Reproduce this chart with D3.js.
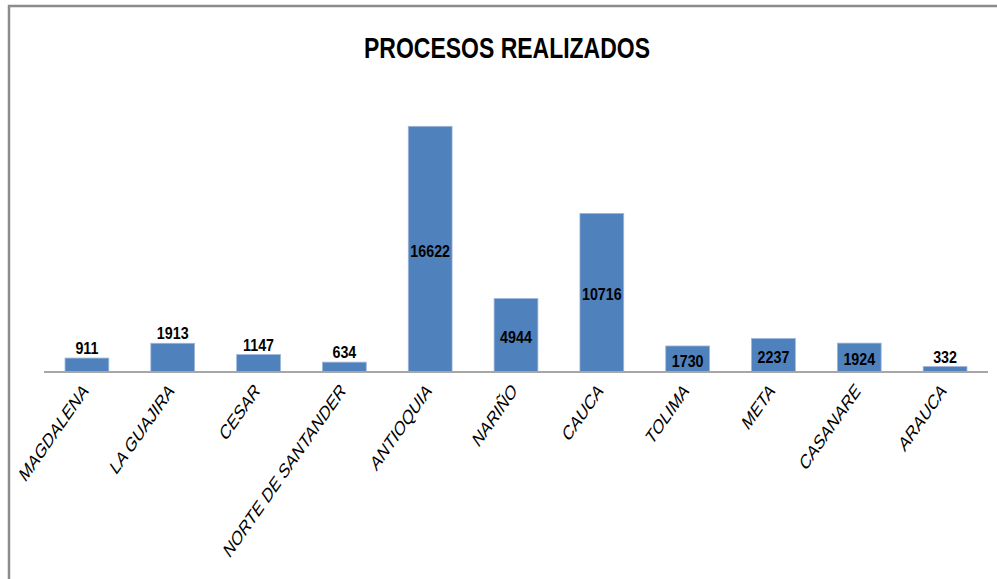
<!DOCTYPE html>
<html>
<head>
<meta charset="utf-8">
<script src="https://cdn.jsdelivr.net/npm/d3@7.9.0/dist/d3.min.js"></script>
<style>
  html, body { margin: 0; padding: 0; background: #fff; }
  svg { display: block; }
</style>
</head>
<body>
<svg id="chart"></svg>
<script>
const departamentos = ['MAGDALENA', 'LA GUAJIRA', 'CESAR', 'NORTE DE SANTANDER', 'ANTIOQUIA',
  'NARIÑO', 'CAUCA', 'TOLIMA', 'META', 'CASANARE', 'ARAUCA'];
const procesos = [911, 1913, 1147, 634, 16622, 4944, 10716, 1730, 2237, 1924, 332];
// labels drawn inside the bar (the rest sit above it)
const dentro = ['ANTIOQUIA', 'NARIÑO', 'CAUCA', 'TOLIMA', 'META', 'CASANARE'];

const W = 997, H = 579;
const svg = d3.select('#chart').attr('width', W).attr('height', H);

// frame (only top and left edges are visible in the crop)
svg.append('path')
  .attr('d', `M9,${H} V6 H${W}`)
  .attr('fill', 'none')
  .attr('stroke', '#8c8c8c')
  .attr('stroke-width', 2.5);

const x = d3.scaleBand().domain(departamentos).range([44, 988]).paddingInner(0.49).paddingOuter(0.245);
const y = d3.scaleLinear().domain([0, 18000]).range([371.5, 106]);

svg.append('text')
  .attr('x', 507).attr('y', 58)
  .attr('text-anchor', 'middle')
  .style('font-family', '"Liberation Sans Narrow", "Liberation Sans", Arial, sans-serif')
  .style('font-weight', 'bold')
  .style('font-size', '30px')
  .attr('textLength', 286)
  .attr('lengthAdjust', 'spacingAndGlyphs')
  .text('PROCESOS REALIZADOS');

const data = departamentos.map((d, i) => ({ name: d, value: procesos[i] }));

svg.selectAll('rect.bar')
  .data(data)
  .join('rect')
  .attr('class', 'bar')
  .attr('x', d => x(d.name))
  .attr('width', x.bandwidth())
  .attr('y', d => y(d.value))
  .attr('height', d => y(0) - y(d.value))
  .attr('fill', '#4f81bd')
  .attr('stroke', '#9db5d9')
  .attr('stroke-width', 0.8);

// axis line
svg.append('line')
  .attr('x1', x.range()[0]).attr('x2', x.range()[1])
  .attr('y1', y(0) + 0.5).attr('y2', y(0) + 0.5)
  .attr('stroke', '#a6a6a6')
  .attr('stroke-width', 2);

// value labels (condensed bold, like the original)
svg.selectAll('text.val')
  .data(data)
  .join('text')
  .attr('class', 'val')
  .attr('transform', d => {
    const cx = x(d.name) + x.bandwidth() / 2;
    const cy = dentro.includes(d.name) ? (y(d.value) + y(0)) / 2 + 8 : y(d.value) - 4;
    return `translate(${cx},${cy}) scale(0.84,1)`;
  })
  .attr('text-anchor', 'middle')
  .style('font-family', '"Liberation Sans Narrow", "Liberation Sans", Arial, sans-serif')
  .style('font-weight', 'bold')
  .style('font-size', '17px')
  .attr('fill', '#000')
  .text(d => d.value);

// category labels, rotated and squeezed horizontally
svg.selectAll('text.cat')
  .data(data)
  .join('text')
  .attr('class', 'cat')
  .attr('transform', d => `translate(${x(d.name) + x.bandwidth() / 2 + 2},392) scale(0.7,1) rotate(-45)`)
  .attr('text-anchor', 'end')
  .style('font-family', '"Liberation Sans", Arial, sans-serif')
  .style('font-size', '20.5px')
  .attr('fill', '#000')
  .text(d => d.name);
</script>
</body>
</html>
